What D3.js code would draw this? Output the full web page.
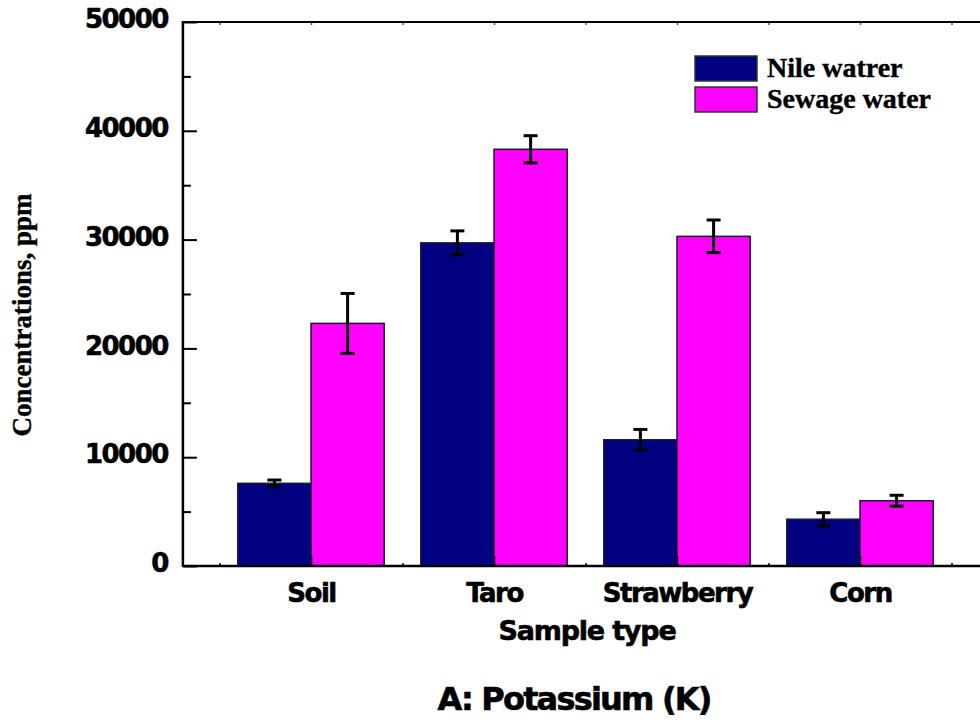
<!DOCTYPE html>
<html>
<head>
<meta charset="utf-8">
<script src="https://cdn.jsdelivr.net/npm/d3@7"></script>
<style>
  html, body { margin: 0; padding: 0; background: #fff; }
  svg { display: block; overflow: hidden; }
  .tick-label { font-family: "DejaVu Sans", Verdana, sans-serif; font-weight: bold; stroke: #000; stroke-width: 0.6px; }
  .serif { font-family: "Liberation Serif", "Times New Roman", serif; font-weight: bold; stroke: #000; stroke-width: 0.4px; }
</style>
</head>
<body>
<svg id="chart" width="980" height="721"></svg>
<script>
// Potassium concentrations by sample type (ppm)
const categories = ["Soil", "Taro", "Strawberry", "Corn"];
const seriesNames = ["Nile watrer", "Sewage water"];
const nileValues = [7600, 29700, 11600, 4300];
const nileErrors = [300, 1100, 950, 600];
const sewageValues = [22300, 38300, 30300, 6000];
const sewageErrors = [2750, 1250, 1500, 500];
const yTicks = [0, 10000, 20000, 30000, 40000, 50000];
const yMinorTicks = [5000, 15000, 25000, 35000, 45000];
const xMinorTicks = [0.5, 1.5, 2.5, 3.5, 4.5];

const colors = ["#000080", "#FF00FF"];

const svg = d3.select("#chart");

// category i sits at x = i + 1 on a continuous axis
const x = d3.scaleLinear().domain([0.3, 4.7]).range([182.9, 988.1]);
const y = d3.scaleLinear().domain([0, 50000]).range([566, 22]);
const barW = x(1.4) - x(1);

const series = [
  { name: seriesNames[0], values: nileValues, errors: nileErrors, color: colors[0], offset: -1 },
  { name: seriesNames[1], values: sewageValues, errors: sewageErrors, color: colors[1], offset: 0 }
];

// bars
series.forEach(s => {
  svg.append("g").selectAll("rect")
    .data(s.values)
    .join("rect")
    .attr("x", (d, i) => x(i + 1) + s.offset * barW)
    .attr("y", d => y(d))
    .attr("width", barW)
    .attr("height", d => y(0) - y(d))
    .attr("fill", s.color)
    .attr("stroke", "#1a1a2e")
    .attr("stroke-width", 1.5);
});

// error bars
series.forEach(s => {
  const g = svg.append("g").attr("stroke", "#000").attr("stroke-width", 3);
  s.values.forEach((v, i) => {
    const cx = x(i + 1) + s.offset * barW + barW / 2;
    const e = s.errors[i];
    g.append("line").attr("x1", cx).attr("x2", cx).attr("y1", y(v + e)).attr("y2", y(v - e));
    g.append("line").attr("x1", cx - 7).attr("x2", cx + 7).attr("y1", y(v + e)).attr("y2", y(v + e));
    g.append("line").attr("x1", cx - 7).attr("x2", cx + 7).attr("y1", y(v - e)).attr("y2", y(v - e));
  });
});

// left axis with inward ticks
const yAxis = d3.axisLeft(y).tickValues(yTicks).tickSize(-14).tickFormat(d3.format("d")).tickPadding(15);
const gy = svg.append("g").attr("transform", `translate(${x(0.3)},0)`).call(yAxis);
gy.select(".domain").remove();
gy.selectAll(".tick line").attr("stroke", "#000").attr("stroke-width", 2);
gy.selectAll(".tick text")
  .attr("class", "tick-label")
  .attr("font-size", 26)
  .attr("letter-spacing", "-1.5px")
  .attr("fill", "#000")
  .attr("dy", "0.22em");
const gyMinor = d3.axisLeft(y).tickValues(yMinorTicks).tickSize(-8).tickFormat("");
const gym = svg.append("g").attr("transform", `translate(${x(0.3)},0)`).call(gyMinor);
gym.select(".domain").remove();
gym.selectAll(".tick line").attr("stroke", "#000").attr("stroke-width", 2);

// bottom axis: category ticks pointing up into the plot
const xAxis = d3.axisBottom(x).tickValues(categories.map((c, i) => i + 1))
  .tickSize(-10).tickPadding(18).tickFormat((d, i) => categories[i]);
const gx = svg.append("g").attr("transform", `translate(0,${y(0)})`).call(xAxis);
gx.select(".domain").remove();
gx.selectAll(".tick line").attr("stroke", "#000").attr("stroke-width", 1.5);
gx.selectAll(".tick text")
  .attr("class", "tick-label")
  .attr("font-size", 26)
  .attr("letter-spacing", "-1.5px")
  .attr("fill", "#000")
  .attr("dy", "0.71em");

const gxMinor = d3.axisBottom(x).tickValues(xMinorTicks).tickSize(-3).tickFormat("");
const gxm = svg.append("g").attr("transform", `translate(0,${y(0)})`).call(gxMinor);
gxm.select(".domain").remove();
gxm.selectAll(".tick line").attr("stroke", "#000").attr("stroke-width", 1.5);

// top axis with tiny inward ticks
const topTicks = xMinorTicks.concat(categories.map((c, i) => i + 1));
const gt = svg.append("g").attr("transform", `translate(0,${y(50000)})`)
  .call(d3.axisTop(x).tickValues(topTicks).tickSize(-3).tickFormat(""));
gt.select(".domain").remove();
gt.selectAll(".tick line").attr("stroke", "#555").attr("stroke-width", 1.5);

// axis frame lines
svg.append("line").attr("x1", x(0.3)).attr("x2", x(4.7)).attr("y1", y(0)).attr("y2", y(0))
  .attr("stroke", "#000").attr("stroke-width", 2.5);
svg.append("line").attr("x1", x(0.3)).attr("x2", x(4.7)).attr("y1", y(50000)).attr("y2", y(50000))
  .attr("stroke", "#000").attr("stroke-width", 2);
svg.append("line").attr("x1", x(0.3)).attr("x2", x(0.3)).attr("y1", y(0) + 1).attr("y2", y(50000) - 1)
  .attr("stroke", "#000").attr("stroke-width", 2.5);

// axis titles
svg.append("text")
  .attr("class", "serif")
  .attr("transform", "translate(31,315) rotate(-90)")
  .attr("text-anchor", "middle")
  .attr("font-size", 27)
  .text("Concentrations, ppm");

svg.append("text")
  .attr("class", "tick-label")
  .attr("x", 587)
  .attr("y", 640)
  .attr("text-anchor", "middle")
  .attr("font-size", 27)
  .attr("letter-spacing", "-1.2px")
  .text("Sample type");

svg.append("text")
  .attr("class", "tick-label")
  .attr("x", 574)
  .attr("y", 710)
  .attr("text-anchor", "middle")
  .attr("font-size", 32)
  .attr("letter-spacing", "-1.8px")
  .text("A: Potassium (K)");

// legend
const legend = svg.append("g").attr("transform", "translate(695,56)");
series.forEach((s, i) => {
  legend.append("rect")
    .attr("x", 0).attr("y", i * 31)
    .attr("width", 62).attr("height", 25)
    .attr("fill", s.color)
    .attr("stroke", "#333").attr("stroke-width", 1.5);
  legend.append("text")
    .attr("class", "serif")
    .attr("x", 72).attr("y", i * 31 + 21)
    .attr("font-size", 28)
    .text(s.name);
});
</script>
</body>
</html>
